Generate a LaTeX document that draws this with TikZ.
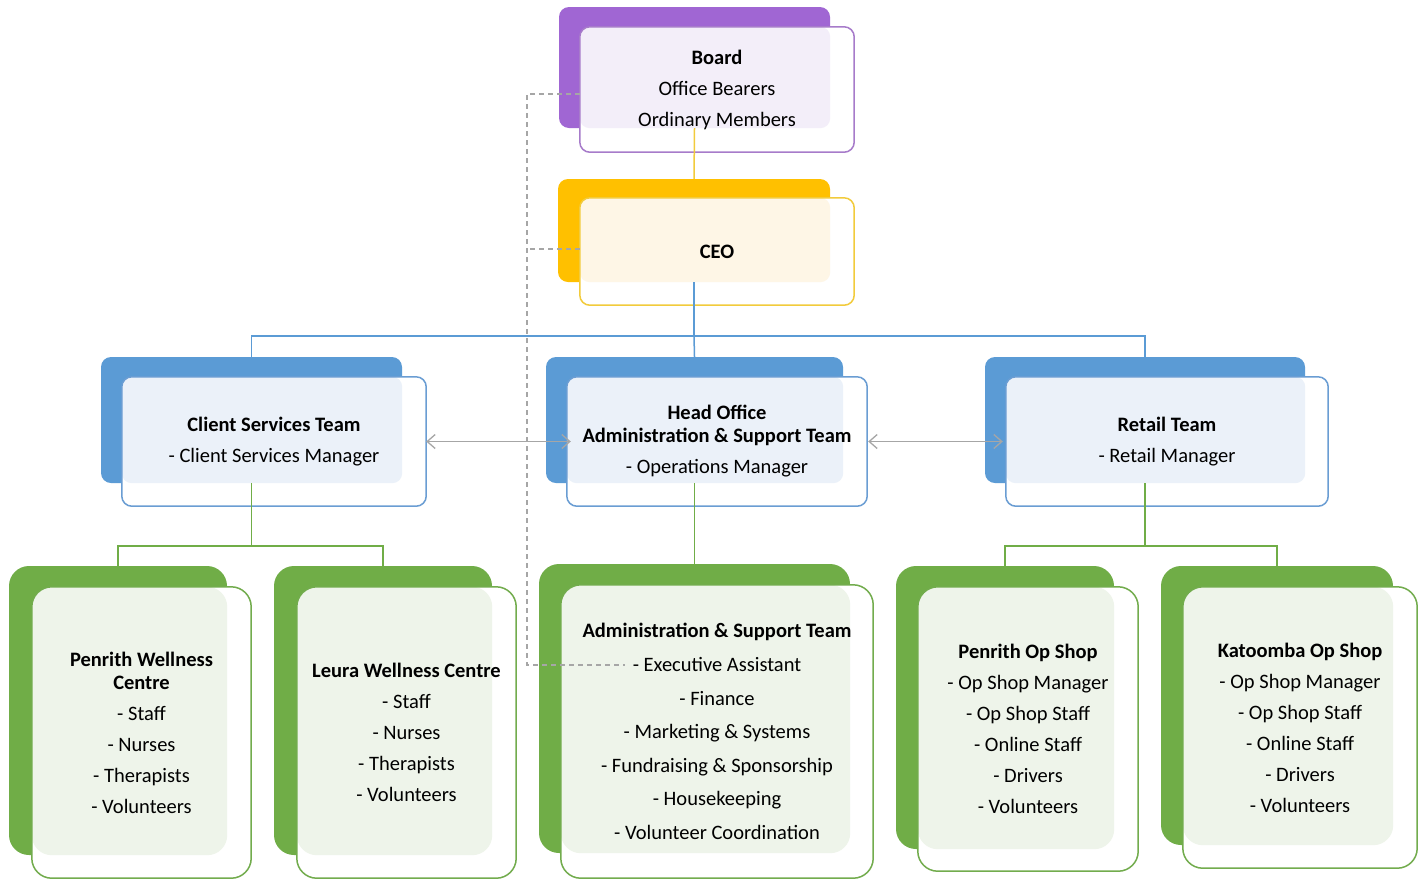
\documentclass[tikz,border=0pt]{standalone}
\usepackage{fontspec}
\setmainfont{Carlito}
\usetikzlibrary{fit,arrows.meta,calc}
\definecolor{purpD}{HTML}{A066D3}
\definecolor{purpL}{HTML}{F3EEF9}
\definecolor{purpB}{HTML}{A77BCA}
\definecolor{goldD}{HTML}{FFC000}
\definecolor{goldL}{HTML}{FEF6E6}
\definecolor{goldB}{HTML}{F2CB3C}
\definecolor{blueD}{HTML}{5B9BD5}
\definecolor{blueL}{HTML}{EBF1F9}
\definecolor{blueB}{HTML}{6A9DD3}
\definecolor{greenD}{HTML}{70AD47}
\definecolor{greenL}{HTML}{EEF4EA}
\definecolor{greenB}{HTML}{72AC4D}
\definecolor{lineG}{HTML}{A6A6A6}
\newcommand{\orgbox}[6]{%
  \node[fit={#2}, inner sep=0pt, fill=#4D, draw=none, rounded corners=#5] (#1B) {};
  \node[fit={#3}, inner sep=0pt, fill=white, draw=none, rounded corners=#5] (#1F) {};
  \fill[#4L, rounded corners=#5] (#1F.north west) rectangle (#1B.south east);
  \draw[#4B, line width=1.5pt, rounded corners=#5] (#1F.north west) rectangle (#1F.south east);
  \node[boxtext] (#1T) at (#1F.center) {#6};
}
\begin{document}
\begin{tikzpicture}[x=1pt,y=-1pt,
  boxtext/.style={align=center, inner sep=0pt, font=\fontsize{20.5}{23}\selectfont},
  conn/.style={line width=1.5pt},
  arr/.style={draw=lineG, line width=1.3pt, {Straight Barb[length=8pt,width=14pt]}-{Straight Barb[length=8pt,width=14pt]}},
  dsh/.style={draw=lineG, line width=1.1pt, dash pattern=on 5pt off 4pt}]
\useasboundingbox[fill=white] (0,0) rectangle (1423,879);

\orgbox{board}{(559,7)(830,128)}{(580,27)(854,152)}{purp}{10pt}{\textbf{Board}\\[8pt]Office Bearers\\[8pt]Ordinary Members}
\orgbox{ceo}{(558,179)(830,282)}{(580,198)(854,305)}{gold}{10pt}{\textbf{CEO}}

\orgbox{cs}{(101,357)(402,483)}{(122,377)(426,506)}{blue}{10pt}{\textbf{Client Services Team}\\[8pt]- Client Services Manager}
\orgbox{ho}{(546,357)(843,483)}{(567,377)(867,506)}{blue}{10pt}{\textbf{Head Office}\\\textbf{Administration \& Support Team}\\[8pt]- Operations Manager}
\orgbox{rt}{(985,357)(1305,483)}{(1006,377)(1328,506)}{blue}{10pt}{\textbf{Retail Team}\\[8pt]- Retail Manager}

\orgbox{pw}{(9,566)(227,855)}{(32,587)(251,878)}{green}{20pt}{\textbf{Penrith Wellness}\\\textbf{Centre}\\[8pt]- Staff\\[8pt]- Nurses\\[8pt]- Therapists\\[8pt]- Volunteers}
\orgbox{lw}{(274,566)(492,855)}{(297,587)(516,878)}{green}{20pt}{\textbf{Leura Wellness Centre}\\[8pt]- Staff\\[8pt]- Nurses\\[8pt]- Therapists\\[8pt]- Volunteers}
\orgbox{ad}{(539,564)(850,853)}{(561,585)(873,878)}{green}{20pt}{\textbf{Administration \& Support Team}\\[10.6pt]- Executive Assistant\\[10.6pt]- Finance\\[10.6pt]- Marketing \& Systems\\[10.6pt]- Fundraising \& Sponsorship\\[10.6pt]- Housekeeping\\[10.6pt]- Volunteer Coordination}
\orgbox{po}{(896,566)(1114,849)}{(918,587)(1138,871)}{green}{20pt}{\textbf{Penrith Op Shop}\\[8pt]- Op Shop Manager\\[8pt]- Op Shop Staff\\[8pt]- Online Staff\\[8pt]- Drivers\\[8pt]- Volunteers}
\orgbox{ko}{(1161,566)(1393,845)}{(1183,587)(1417,868)}{green}{20pt}{\textbf{Katoomba Op Shop}\\[8pt]- Op Shop Manager\\[8pt]- Op Shop Staff\\[8pt]- Online Staff\\[8pt]- Drivers\\[8pt]- Volunteers}

% connectors
\draw[conn, goldB] (boardB.south) -- (ceoB.north);
\coordinate (busA) at ($(ceoB.south)+(0,54)$);
\draw[conn, blueD] (ceoB.south) -- (busA);
\draw[conn, blueD] (csB.north) |- (busA) -| (rtB.north);
\draw[conn, blueD] (hoB.north) -- (busA);

\coordinate (busC) at ($(csB.south)+(0,63)$);
\draw[conn, greenD] (csB.south) -- (busC);
\draw[conn, greenD] (pwB.north) |- (busC) -| (lwB.north);
\draw[conn, greenD] (hoB.south) -- (adB.north);
\coordinate (busR) at ($(rtB.south)+(0,63)$);
\draw[conn, greenD] (rtB.south) -- (busR);
\draw[conn, greenD] (poB.north) |- (busR) -| (koB.north);

% double arrows
\draw[arr, shorten >=-4pt] (csF.east) -- (hoF.west);
\draw[arr, shorten <=1pt, shorten >=3pt] (hoF.east) -- (rtF.west);

% dashed line
\coordinate (dTop) at (527,94);
\coordinate (dMid) at (527,249);
\coordinate (dBot) at (527,665);
\coordinate (eaL) at (625,665);
\draw[dsh] (boardF.west |- dTop) -- (dTop) -- (dBot) -- (eaL);
\draw[dsh] (ceoF.west |- dMid) -- (dMid);
\end{tikzpicture}
\end{document}
